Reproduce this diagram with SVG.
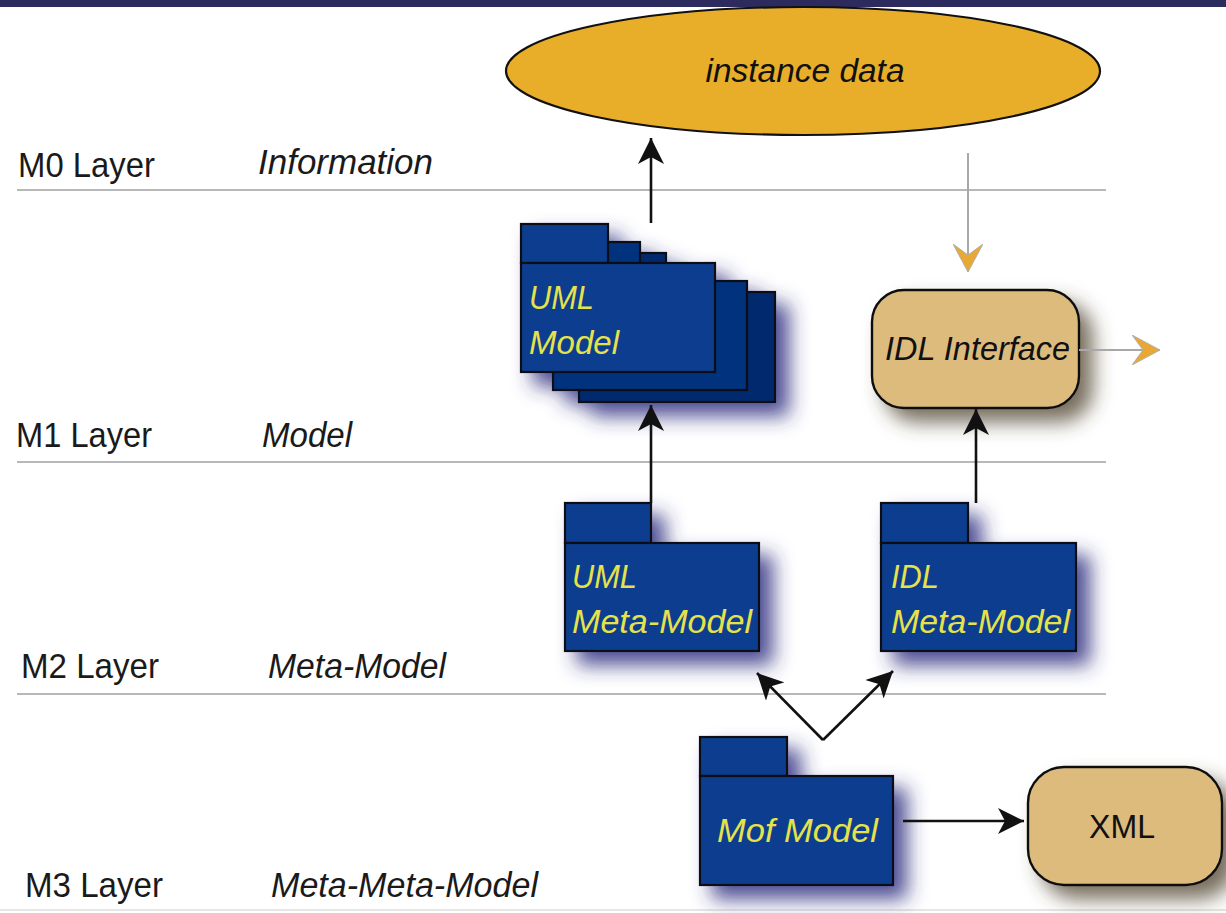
<svg xmlns="http://www.w3.org/2000/svg" width="1226" height="913" viewBox="0 0 1226 913">
  <style>
    .lbl { font-family: "Liberation Sans", Arial, sans-serif; font-size: 35px; fill: #1a1a1a; }
    .it { font-style: italic; }
    .ytxt { font-family: "Liberation Sans", Arial, sans-serif; font-size: 34px; font-style: italic; fill: #e6e24a; }
    .dtxt { font-family: "Liberation Sans", Arial, sans-serif; font-size: 34px; fill: #111; }
    .sep { stroke: #a0a0a0; stroke-width: 1.6; fill: none; }
    .f1 { fill: #073d8e; stroke: #0a0a14; stroke-width: 2.2; }
    .f2 { fill: #06327e; stroke: #0a0a14; stroke-width: 2.2; }
    .f3 { fill: #04296d; stroke: #0a0a14; stroke-width: 2.2; }
    .tan { fill: #dcbb7d; stroke: #111; stroke-width: 2.4; }
    .blk { stroke: #111; stroke-width: 2.6; fill: none; marker-end: url(#ah); }
    .gry { stroke: #a8a8a8; stroke-width: 2; fill: none; marker-end: url(#gh); }
  </style>
  <defs>
    <filter id="bshadow" x="-25%" y="-25%" width="170%" height="170%">
      <feDropShadow dx="13" dy="13" stdDeviation="10" flood-color="#2e2e80" flood-opacity="0.85"/>
    </filter>
    <filter id="tshadow" x="-25%" y="-25%" width="170%" height="170%">
      <feDropShadow dx="13" dy="13" stdDeviation="10" flood-color="#4a3c28" flood-opacity="0.75"/>
    </filter>
    <marker id="ah" viewBox="0 0 26 26" refX="26" refY="13" markerWidth="26" markerHeight="26" markerUnits="userSpaceOnUse" orient="auto">
      <path d="M26,13 L0,0 L7,13 L0,26 Z" fill="#111"/>
    </marker>
    <marker id="gh" viewBox="0 0 28 30" refX="28" refY="15" markerWidth="28" markerHeight="30" markerUnits="userSpaceOnUse" orient="auto">
      <path d="M28,15 L0,0 L11,15 L0,30 Z" fill="#e8a833" stroke="#b0b0b0" stroke-width="1"/>
    </marker>
  </defs>

  <rect x="0" y="0" width="1226" height="913" fill="#ffffff"/>
  <rect x="0" y="0" width="1226" height="7" fill="#2d2a5e"/>
  <line x1="0" y1="910" x2="1226" y2="910" stroke="#e6e6e6" stroke-width="2"/>

  <g id="layers">
    <line class="sep" x1="17" y1="190" x2="1106" y2="190"/>
    <line class="sep" x1="17" y1="462" x2="1106" y2="462"/>
    <line class="sep" x1="17" y1="694" x2="1106" y2="694"/>
    <text class="lbl" x="18" y="177" textLength="137" lengthAdjust="spacingAndGlyphs">M0 Layer</text>
    <text class="lbl it" x="258" y="174" textLength="175" lengthAdjust="spacingAndGlyphs">Information</text>
    <text class="lbl" x="16" y="447" textLength="136" lengthAdjust="spacingAndGlyphs">M1 Layer</text>
    <text class="lbl it" x="262" y="447" textLength="90" lengthAdjust="spacingAndGlyphs">Model</text>
    <text class="lbl" x="21" y="678" textLength="138" lengthAdjust="spacingAndGlyphs">M2 Layer</text>
    <text class="lbl it" x="268" y="678" textLength="178" lengthAdjust="spacingAndGlyphs">Meta-Model</text>
    <text class="lbl" x="25" y="897" textLength="138" lengthAdjust="spacingAndGlyphs">M3 Layer</text>
    <text class="lbl it" x="271" y="897" textLength="267" lengthAdjust="spacingAndGlyphs">Meta-Meta-Model</text>
  </g>

  <g id="instance-data">
    <ellipse cx="803" cy="71" rx="297" ry="64" fill="#e8ae2a" stroke="#111" stroke-width="2.2"/>
    <text class="dtxt it" x="805" y="82" text-anchor="middle" textLength="199" lengthAdjust="spacingAndGlyphs">instance data</text>
  </g>

  <g id="uml-model" filter="url(#bshadow)">
    <rect class="f3" x="579" y="253" width="87" height="39"/>
    <rect class="f3" x="579" y="292" width="196" height="110"/>
    <rect class="f2" x="553" y="242" width="87" height="39"/>
    <rect class="f2" x="553" y="281" width="194" height="109"/>
    <rect class="f1" x="521" y="224" width="87" height="39"/>
    <rect class="f1" x="521" y="263" width="194" height="109"/>
  </g>
  <g id="uml-model-label">
    <text class="ytxt" x="529" y="309" textLength="65" lengthAdjust="spacingAndGlyphs">UML</text>
    <text class="ytxt" x="529" y="354" textLength="90" lengthAdjust="spacingAndGlyphs">Model</text>
  </g>

  <g id="idl-interface">
    <rect class="tan" x="872" y="290" width="207" height="118" rx="32" ry="32" filter="url(#tshadow)"/>
    <text class="dtxt it" x="885" y="360" textLength="185" lengthAdjust="spacingAndGlyphs">IDL Interface</text>
  </g>

  <g id="uml-meta-model">
    <g filter="url(#bshadow)">
      <rect class="f1" x="565" y="503" width="86" height="40"/>
      <rect class="f1" x="565" y="543" width="194" height="108"/>
    </g>
    <text class="ytxt" x="572" y="588" textLength="65" lengthAdjust="spacingAndGlyphs">UML</text>
    <text class="ytxt" x="572" y="633" textLength="180" lengthAdjust="spacingAndGlyphs">Meta-Model</text>
  </g>

  <g id="idl-meta-model">
    <g filter="url(#bshadow)">
      <rect class="f1" x="881" y="503" width="87" height="40"/>
      <rect class="f1" x="881" y="543" width="195" height="108"/>
    </g>
    <text class="ytxt" x="891" y="588" textLength="48" lengthAdjust="spacingAndGlyphs">IDL</text>
    <text class="ytxt" x="891" y="633" textLength="179" lengthAdjust="spacingAndGlyphs">Meta-Model</text>
  </g>

  <g id="mof-model">
    <g filter="url(#bshadow)">
      <rect class="f1" x="700" y="737" width="87" height="39"/>
      <rect class="f1" x="700" y="776" width="193" height="109"/>
    </g>
    <text class="ytxt" x="717" y="842" textLength="161" lengthAdjust="spacingAndGlyphs">Mof Model</text>
  </g>

  <g id="xml">
    <rect class="tan" x="1028" y="767" width="194" height="118" rx="36" ry="36" filter="url(#tshadow)"/>
    <text class="dtxt" x="1122" y="838" text-anchor="middle" textLength="66" lengthAdjust="spacingAndGlyphs">XML</text>
  </g>

  <g id="connectors">
    <line class="blk" x1="651" y1="223" x2="651" y2="138"/>
    <line class="blk" x1="651" y1="503" x2="651" y2="405"/>
    <line class="blk" x1="976" y1="503" x2="976" y2="409"/>
    <line class="blk" x1="823" y1="740" x2="757" y2="673"/>
    <line class="blk" x1="823" y1="740" x2="893" y2="671"/>
    <line class="blk" x1="903" y1="821" x2="1024" y2="821"/>
    <line class="gry" x1="968" y1="153" x2="968" y2="272"/>
    <line class="gry" x1="1079" y1="350" x2="1160" y2="350"/>
  </g>
</svg>
